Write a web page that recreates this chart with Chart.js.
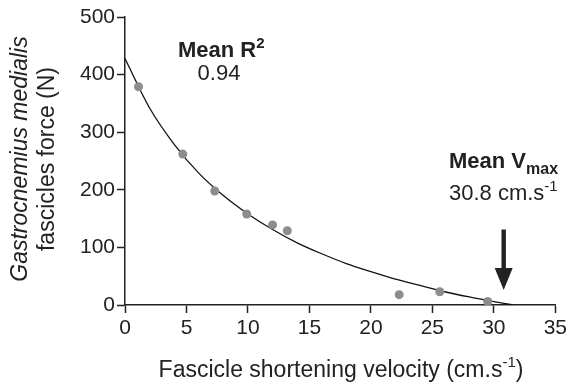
<!DOCTYPE html>
<html>
<head>
<meta charset="utf-8">
<script src="https://cdn.jsdelivr.net/npm/chart.js@4/dist/chart.umd.min.js"></script>
<style>
html,body{margin:0;padding:0;background:#fff;}
#wrap{width:570px;height:384px;position:relative;}
</style>
</head>
<body>
<div id="wrap"><canvas id="c" width="570" height="384"></canvas></div>
<script>
// Measured data points (velocity cm/s, force N)
const pointVelocity = [1.1, 4.7, 7.3, 9.9, 12.0, 13.2, 22.3, 25.6, 29.5];
const pointForce    = [379, 262, 198, 158, 139, 129, 18, 23, 6];
// Fitted curve
const curveVelocity = [0, 2, 4, 6, 8, 10, 12, 14, 16, 18, 20, 22, 24, 26, 28, 30, 31.6];
const curveForce    = [428, 342, 279, 229, 190, 158, 131, 108, 89, 72, 58, 45, 34, 23, 14, 6, 0];
// Ticks
const xTicks = [0, 5, 10, 15, 20, 25, 30, 35];
const yTicks = [0, 100, 200, 300, 400, 500];
// Annotations
const meanR2 = "0.94";
const meanVmax = 30.8;
const arrowTop = 131, arrowTip = 26;

const FONT = "'Liberation Sans', Arial, Helvetica, sans-serif";
const INK = '#222';

function drawRich(ctx, x, y, segs, align) {
  let total = 0;
  segs.forEach(s => { ctx.font = s.font; s.w = ctx.measureText(s.t).width; total += s.w; });
  let cx = align === 'center' ? x - total / 2 : x;
  ctx.textAlign = 'left';
  ctx.textBaseline = 'alphabetic';
  segs.forEach(s => { ctx.font = s.font; ctx.fillText(s.t, cx, y + (s.dy || 0)); cx += s.w; });
}

const annot = {
  id: 'annot',
  afterDraw(chart) {
    const ctx = chart.ctx;
    const xs = chart.scales.x, ys = chart.scales.y;
    ctx.save();
    ctx.fillStyle = INK;
    // Mean R^2
    drawRich(ctx, 178, 57, [
      {t: 'Mean R', font: `bold 22px ${FONT}`},
      {t: '2', font: `bold 15px ${FONT}`, dy: -9}
    ]);
    drawRich(ctx, 219, 80, [{t: meanR2, font: `22px ${FONT}`}], 'center');
    // Mean Vmax
    drawRich(ctx, 449, 168, [
      {t: 'Mean V', font: `bold 22px ${FONT}`},
      {t: 'max', font: `bold 16px ${FONT}`, dy: 6}
    ]);
    drawRich(ctx, 449, 200, [
      {t: meanVmax.toFixed(1) + ' cm.s', font: `22px ${FONT}`},
      {t: '-1', font: `15px ${FONT}`, dy: -9}
    ]);
    // Arrow
    const ax = xs.getPixelForValue(meanVmax);
    const yTop = ys.getPixelForValue(arrowTop);
    const yTip = ys.getPixelForValue(arrowTip);
    const headH = 22, headW = 9;
    ctx.fillRect(ax - 2.2, yTop, 4.4, (yTip - headH) - yTop + 1);
    ctx.beginPath();
    ctx.moveTo(ax - headW, yTip - headH);
    ctx.lineTo(ax + headW, yTip - headH);
    ctx.lineTo(ax, yTip);
    ctx.closePath();
    ctx.fill();
    // X title
    drawRich(ctx, 341, 377, [
      {t: 'Fascicle shortening velocity (cm.s', font: `23px ${FONT}`},
      {t: '-1', font: `15px ${FONT}`, dy: -10},
      {t: ')', font: `23px ${FONT}`}
    ], 'center');
    // Y title (rotated)
    ctx.translate(0, 159);
    ctx.rotate(-Math.PI / 2);
    drawRich(ctx, 0, 27, [{t: 'Gastrocnemius medialis', font: `italic 23px ${FONT}`}], 'center');
    drawRich(ctx, 0, 54, [{t: 'fascicles force (N)', font: `23px ${FONT}`}], 'center');
    ctx.restore();
  }
};

const scatterData = pointVelocity.map((v, i) => ({x: v, y: pointForce[i]}));
const curveData = curveVelocity.map((v, i) => ({x: v, y: curveForce[i]}));

new Chart(document.getElementById('c'), {
  type: 'scatter',
  data: {
    datasets: [
      {
        type: 'line',
        data: curveData,
        borderColor: '#111',
        borderWidth: 1.3,
        pointRadius: 0,
        fill: false,
        cubicInterpolationMode: 'monotone',
        order: 2
      },
      {
        data: scatterData,
        backgroundColor: '#8d8d8d',
        borderWidth: 0,
        pointRadius: 4.5,
        order: 1
      }
    ]
  },
  options: {
    responsive: false,
    animation: false,
    devicePixelRatio: 1,
    layout: {padding: {left: 0, top: 17, right: 13, bottom: 0}},
    plugins: {legend: {display: false}, tooltip: {enabled: false}},
    scales: {
      x: {
        type: 'linear', min: 0, max: 35,
        afterBuildTicks: s => { s.ticks = xTicks.map(v => ({value: v})); },
        afterFit: s => { s.height = 79; },
        border: {display: true, color: INK, width: 1.5},
        grid: {drawOnChartArea: false, drawTicks: true, tickLength: 8, tickColor: INK, tickWidth: 1.5},
        ticks: {color: INK, font: {family: FONT, size: 21}, padding: 3, maxRotation: 0}
      },
      y: {
        type: 'linear', min: 0, max: 500,
        afterBuildTicks: s => { s.ticks = yTicks.map(v => ({value: v})); },
        afterFit: s => { s.width = 125; },
        border: {display: true, color: INK, width: 1.5},
        grid: {drawOnChartArea: false, drawTicks: true, tickLength: 8, tickColor: INK, tickWidth: 1.5},
        ticks: {color: INK, font: {family: FONT, size: 21}, padding: 2}
      }
    }
  },
  plugins: [annot]
});
</script>
</body>
</html>
